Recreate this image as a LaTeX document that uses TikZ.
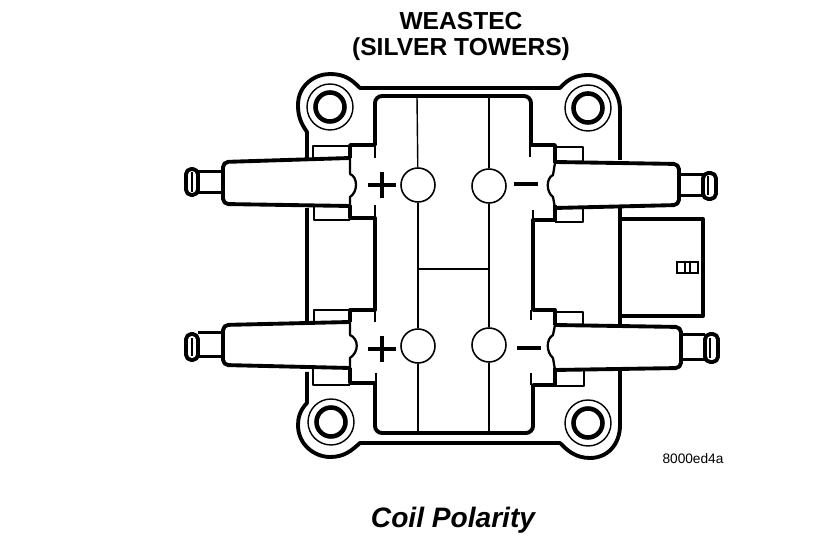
\documentclass[tikz,border=0pt]{standalone}
\usepackage{fontspec}
\setmainfont{Liberation Sans}
\begin{document}
\begin{tikzpicture}
	[
	x = 0.02cm, y = -0.02cm,
	heavy/.style={draw = black, line width = 2.2pt, line join = round},
	medium/.style={draw = black, line width = 1.3pt, line join = round},
	fine/.style={draw = black, line width = 0.8pt},
	port/.style={draw = black, shape = circle, line width = 0.9pt, minimum size = 0.68cm, inner sep = 0pt},
	boltouter/.style={draw = black, shape = circle, line width = 0.8pt, minimum size = 0.92cm, inner sep = 0pt},
	boltinner/.style={draw = black, shape = circle, line width = 2.6pt, minimum size = 0.58cm, inner sep = 0pt},
	sign/.style={draw = black, line width = 2.8pt},
	heading/.style={font = \bfseries\fontsize{14}{16}\selectfont, inner sep = 0pt, anchor = base}
	]
	\useasboundingbox (0,0) rectangle (816,546);
	
	% Texts
	\node[heading](title1) at (461,30){WEASTEC};
	\node[heading](title2) at (461,56){(SILVER TOWERS)};
	\node[inner sep = 0pt, font = \fontsize{7.8}{9}\selectfont](partno) at (693,459){8000ed4a};
	\node[inner sep = 0pt, anchor = base, font = \bfseries\itshape\fontsize{16}{18}\selectfont](caption) at (453,528){Coil Polarity};
	
	% Outer housing
	\draw[heavy] (307,158) -- (307,132) .. controls (300,122) and (298,115) .. (298,105)
		.. controls (298,85) and (315,74) .. (330,74) .. controls (345,74) and (352,80) .. (360,88)
		-- (560,88) .. controls (567,80) and (575,75) .. (588,75)
		.. controls (605,75) and (620,90) .. (620,110) -- (620,160);
	\draw[heavy] (307,372) -- (307,403) .. controls (300,410) and (298,418) .. (298,425)
		.. controls (298,445) and (315,457) .. (330,457) .. controls (345,457) and (352,450) .. (360,443)
		-- (560,443) .. controls (567,450) and (575,458) .. (590,458)
		.. controls (607,458) and (620,445) .. (620,425) -- (620,370);
	\draw[heavy] (307,208) -- (307,322);
	\draw[heavy] (620,208) -- (620,325);
	
	% Connector
	\draw[heavy] (620,219) -- (703,219) -- (703,316) -- (620,316);
	\draw[fine] (677,262) rectangle (698,273);
	\draw[fine] (685,262) -- (685,273);
	\draw[fine] (690,262) -- (690,273);
	
	% Centre block
	\draw[heavy] (350,158) -- (350,145) -- (375,145) -- (375,120) [rounded corners = 4pt] -- (375,96) -- (531,96)
		-- (531,120) [sharp corners] -- (531,145) -- (555,145) -- (555,163);
	\draw[heavy] (350,205) -- (350,218) -- (375,218) -- (375,310) -- (350,310) -- (350,322);
	\draw[heavy] (555,205) -- (555,220) -- (533,220) -- (533,310) -- (555,310) -- (555,325);
	\draw[heavy] (350,368) -- (350,383) -- (375,383) -- (375,410) [rounded corners = 4pt] -- (375,433) -- (533,433)
		-- (533,410) [sharp corners] -- (533,385) -- (555,385) -- (555,368);
	
	% Short ticks of the centre block
	\draw[fine] (375,145) -- (375,158);
	\draw[fine] (375,205) -- (375,218);
	\draw[fine] (375,310) -- (375,322);
	\draw[fine] (376,373) -- (376,383);
	\draw[fine] (530,145) -- (530,157);
	\draw[fine] (533,210) -- (533,220);
	\draw[fine] (531,310) -- (531,320);
	\draw[fine] (531,373) -- (531,385);
	
	% Ports
	\node[port](pUL) at (418,185){};
	\node[port](pUR) at (489,186){};
	\node[port](pLL) at (418,346){};
	\node[port](pLR) at (489,345){};
	\coordinate (topL) at (417,96);
	\coordinate (topR) at (489,96);
	\coordinate (botL) at (418,433);
	\coordinate (botR) at (489,433);
	\coordinate (midL) at (418,269);
	\coordinate (midR) at (489,269);
	\draw[fine] (topL) -- (pUL);
	\draw[fine] (topR) -- (pUR);
	\draw[fine] (pUL) -- (pLL);
	\draw[fine] (pUR) -- (pLR);
	\draw[fine] (pLL) -- (botL);
	\draw[fine] (pLR) -- (botR);
	\draw[fine] (midL) -- (midR);
	
	% Bolts
	\node[boltouter](b1o) at (330,107){};
	\node[boltinner](b1i) at (330,107){};
	\node[boltouter](b2o) at (588,108){};
	\node[boltinner](b2i) at (588,108){};
	\node[boltouter](b3o) at (331,422){};
	\node[boltinner](b3i) at (331,422){};
	\node[boltouter](b4o) at (588,423){};
	\node[boltinner](b4i) at (588,423){};
	
	% Clips
	\draw[medium] (350,146) -- (313,146) -- (313,158);
	\draw[medium] (314,206) -- (314,220) -- (350,220);
	\draw[medium] (350,310) -- (314,310) -- (314,322);
	\draw[medium] (313,368) -- (313,385) -- (350,385);
	\draw[medium] (555,147) -- (583,147) -- (583,162);
	\draw[medium] (583,207) -- (583,222) -- (555,222);
	\draw[medium] (555,312) -- (583,312) -- (583,325);
	\draw[medium] (584,369) -- (584,386) -- (555,386);
	
	% Towers from up to down, left
	\draw[heavy, rounded corners = 3pt] (350,158) -- (223,162) -- (223,204) -- (350,206);
	\draw[medium] (350,158) -- (350,174) .. controls (358,177) and (358,192) .. (350,197) -- (350,206);
	\draw[heavy, line width = 1.7pt] (223,172) -- (198,172);
	\draw[heavy, line width = 1.7pt] (223,193) -- (198,193);
	\draw[heavy, rounded corners = 3pt] (186,169) rectangle (198,195);
	\draw[fine] (192,172) -- (192,192);
	\draw[heavy, rounded corners = 3pt] (350,322) -- (223,325) -- (223,365) -- (350,368);
	\draw[medium] (350,322) -- (350,335) .. controls (359,339) and (359,352) .. (350,358) -- (350,368);
	\draw[heavy, line width = 1.7pt] (223,333) -- (198,333);
	\draw[heavy, line width = 1.7pt] (223,357) -- (198,357);
	\draw[heavy, rounded corners = 3pt] (186,334) rectangle (198,360);
	\draw[fine] (192,338) -- (192,356);
	
	% Towers from up to down, right
	\draw[heavy, rounded corners = 3pt] (555,162) -- (679,164) -- (679,205) -- (555,208);
	\draw[medium] (555,163) -- (553,175) .. controls (546,178) and (546,192) .. (553,197) -- (555,208);
	\draw[heavy, line width = 1.7pt] (679,175) -- (703,175);
	\draw[heavy, line width = 1.7pt] (679,196) -- (703,196);
	\draw[heavy, rounded corners = 3pt] (703,173) rectangle (716,199);
	\draw[fine] (708,176) -- (708,195);
	\draw[heavy, rounded corners = 3pt] (555,325) -- (681,327) -- (681,368) -- (555,370);
	\draw[medium] (555,325) -- (553,335) .. controls (546,339) and (546,352) .. (553,358) -- (555,370);
	\draw[heavy, line width = 1.7pt] (681,335) -- (705,335);
	\draw[heavy, line width = 1.7pt] (681,360) -- (705,360);
	\draw[heavy, rounded corners = 3pt] (705,334) rectangle (718,362);
	\draw[fine] (710,338) -- (710,358);
	
	% Polarity signs
	\draw[sign] (368,185) -- (396,185);
	\draw[sign] (382,172) -- (382,198);
	\draw[sign] (368,349) -- (396,349);
	\draw[sign] (382,336) -- (382,362);
	\draw[sign] (514,184) -- (538,184);
	\draw[sign] (517,348) -- (541,348);
\end{tikzpicture}
\end{document}
